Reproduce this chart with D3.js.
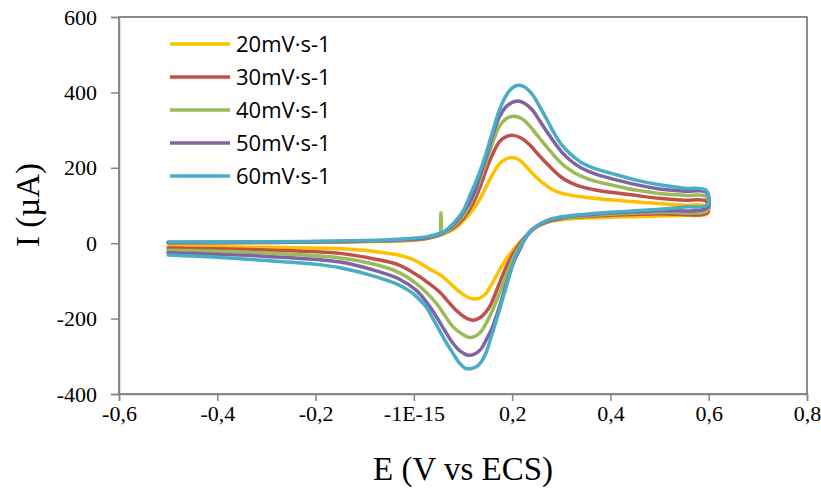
<!DOCTYPE html>
<html>
<head>
<script src="https://d3js.org/d3.v7.min.js"></script>
<style>
  body { margin: 0; background: #fff; }
  text { fill: #000; }
</style>
</head>
<body>
<svg width="821" height="493"></svg>
<script>
// scan rates (legend) and colours
const rates = ["20mV·s-1", "30mV·s-1", "40mV·s-1", "50mV·s-1", "60mV·s-1"];
const colors = ["#FFC000", "#C0504D", "#9BBB59", "#8064A2", "#4BACC6"];

const xTicks = [-0.6, -0.4, -0.2, 0, 0.2, 0.4, 0.6, 0.8];
const xTickLabels = ["-0,6", "-0,4", "-0,2", "-1E-15", "0,2", "0,4", "0,6", "0,8"];
const yTicks = [-400, -200, 0, 200, 400, 600];

// [E (V), I (µA)], forward scan then reverse
const cv20 = [[-0.5,1],[-0.3,2],[-0.1,4],[0,8],[0.03,13],[0.06,24],[0.08,36],[0.1,58],[0.12,88],[0.135,118],[0.147,149],[0.16,182],[0.174,210],[0.188,224],[0.2,227],[0.213,222],[0.229,203],[0.245,180],[0.262,160],[0.28,144],[0.3,133],[0.34,123],[0.4,115],[0.45,110],[0.5,105],[0.55,101],[0.595,98],
  [0.598,78],[0.55,74],[0.5,72],[0.45,70],[0.4,69],[0.35,67],[0.3,63],[0.27,55],[0.25,43],[0.235,28],[0.22,8],[0.207,-10],[0.195,-30],[0.185,-48],[0.174,-72],[0.16,-105],[0.147,-133],[0.135,-145],[0.1215,-148],[0.108,-142],[0.093,-129],[0.075,-108],[0.059,-89],[0.04,-74],[0.025,-63],[0,-44],[-0.03,-32],[-0.08,-22],[-0.15,-15],[-0.3,-11],[-0.5,-8]];

const cv30 = [[-0.5,1],[-0.3,2],[-0.1,5],[0,9],[0.03,14],[0.06,26],[0.08,40],[0.1,65],[0.12,105],[0.135,150],[0.147,194],[0.16,235],[0.174,269],[0.19,284],[0.203,286],[0.218,279],[0.235,262],[0.25,240],[0.27,212],[0.3,175],[0.32,160],[0.34,150],[0.37,141],[0.4,135],[0.45,127],[0.5,119],[0.55,114],[0.595,111],
  [0.598,82],[0.5,78],[0.4,74],[0.3,65],[0.27,56],[0.25,44],[0.235,28],[0.22,7],[0.21,-12],[0.2,-32],[0.187,-66],[0.174,-107],[0.164,-140],[0.154,-169],[0.14,-192],[0.128,-202],[0.117,-204],[0.103,-196],[0.086,-178],[0.07,-155],[0.052,-129],[0.03,-106],[0.012,-89],[-0.03,-58],[-0.08,-42],[-0.15,-27],[-0.3,-18],[-0.5,-13]];

const cv40 = [[-0.5,2],[-0.3,3],[-0.1,5],[0,10],[0.03,15],[0.053,23],[0.055,80],[0.057,25],[0.08,44],[0.1,72],[0.12,118],[0.135,170],[0.147,215],[0.16,265],[0.174,310],[0.19,332],[0.205,337],[0.22,330],[0.235,312],[0.25,288],[0.27,256],[0.3,212],[0.32,192],[0.34,178],[0.37,164],[0.4,155],[0.45,141],[0.5,132],[0.55,127],[0.595,123],
  [0.598,88],[0.5,82],[0.4,77],[0.3,66],[0.27,57],[0.25,45],[0.235,28],[0.222,6],[0.212,-15],[0.202,-40],[0.188,-85],[0.174,-133],[0.16,-178],[0.147,-213],[0.135,-237],[0.123,-248],[0.113,-250],[0.098,-241],[0.08,-222],[0.063,-192],[0.046,-160],[0.025,-130],[0.005,-107],[-0.03,-78],[-0.08,-56],[-0.15,-39],[-0.3,-26],[-0.5,-19]];

const cv50 = [[-0.5,2],[-0.3,3],[-0.1,6],[0,11],[0.03,16],[0.06,28],[0.08,48],[0.1,80],[0.12,125],[0.135,180],[0.147,228],[0.16,285],[0.174,335],[0.19,365],[0.21,377],[0.225,371],[0.242,352],[0.255,327],[0.27,297],[0.3,243],[0.32,218],[0.34,200],[0.37,183],[0.4,172],[0.45,156],[0.5,144],[0.55,138],[0.595,135],
  [0.598,95],[0.5,86],[0.4,80],[0.3,68],[0.27,58],[0.25,45],[0.235,28],[0.224,6],[0.215,-18],[0.205,-45],[0.19,-100],[0.174,-169],[0.16,-222],[0.147,-257],[0.135,-283],[0.122,-295],[0.11,-297],[0.095,-287],[0.08,-266],[0.063,-232],[0.046,-195],[0.025,-155],[0.005,-125],[-0.03,-95],[-0.08,-72],[-0.15,-50],[-0.3,-35],[-0.5,-25]];

const cv60 = [[-0.5,3],[-0.4,3],[-0.3,4],[-0.2,5],[-0.1,7],[-0.05,9],[0,13],[0.03,18],[0.06,30],[0.08,52],[0.1,85],[0.113,123],[0.13,175],[0.147,238],[0.16,295],[0.174,353],[0.185,385],[0.195,405],[0.205,416],[0.215,419],[0.228,412],[0.242,393],[0.255,365],[0.27,330],[0.285,293],[0.3,262],[0.32,235],[0.34,215],[0.37,197],[0.4,186],[0.45,168],[0.5,155],[0.55,146],[0.595,140],
  [0.598,102],[0.55,96],[0.5,90],[0.45,86],[0.4,82],[0.35,77],[0.3,70],[0.27,60],[0.25,46],[0.235,30],[0.225,10],[0.216,-10],[0.208,-30],[0.198,-70],[0.188,-116],[0.178,-160],[0.168,-204],[0.157,-250],[0.147,-290],[0.137,-315],[0.127,-328],[0.115,-333],[0.105,-332],[0.093,-318],[0.08,-293],[0.065,-262],[0.052,-231],[0.038,-198],[0.025,-169],[0.01,-148],[-0.002,-133],[-0.03,-111],[-0.08,-88],[-0.15,-65],[-0.2,-56],[-0.3,-46],[-0.4,-37],[-0.5,-31]];

const curves = [cv20, cv30, cv40, cv50, cv60];

const svg = d3.select("svg");
const plotL = 119, plotR = 807, plotT = 17, plotB = 394;

const x = d3.scaleLinear().domain([-0.6, 0.8]).range([plotL, plotR]);
const y = d3.scaleLinear().domain([-400, 600]).range([plotB, plotT]);

// plot frame
svg.append("rect")
  .attr("x", plotL).attr("y", plotT)
  .attr("width", plotR - plotL).attr("height", plotB - plotT)
  .attr("fill", "none").attr("stroke", "#404040").attr("stroke-width", 1.2);

// axes
const xAxis = svg.append("g")
  .attr("transform", `translate(0,${plotB})`)
  .call(d3.axisBottom(x).tickValues(xTicks).tickSize(7).tickPadding(4)
    .tickFormat((d, i) => xTickLabels[i]));
const yAxis = svg.append("g")
  .attr("transform", `translate(${plotL},0)`)
  .call(d3.axisLeft(y).tickValues(yTicks).tickSize(8).tickPadding(14)
    .tickFormat(d => String(d)));

[xAxis, yAxis].forEach(g => {
  g.select(".domain").attr("stroke", "#868686").attr("stroke-width", 1.5);
  g.selectAll(".tick line").attr("stroke", "#868686").attr("stroke-width", 1.5);
  g.selectAll(".tick text")
    .attr("font-family", "'Liberation Serif', 'Times New Roman', serif")
    .attr("font-size", 22).attr("fill", "#000");
});

// curves
const line = d3.line()
  .x(d => x(d[0]))
  .y(d => y(d[1]))
  .curve(d3.curveCatmullRom.alpha(0.5));

curves.forEach((c, i) => {
  svg.append("path")
    .datum(c)
    .attr("d", line)
    .attr("fill", "none")
    .attr("stroke", colors[i])
    .attr("stroke-width", 3.5)
    .attr("stroke-linejoin", "round")
    .attr("stroke-linecap", "round");
});

// legend
const legend = svg.append("g");
rates.forEach((r, i) => {
  const ly = 44 + i * 33;
  legend.append("line")
    .attr("x1", 170).attr("x2", 230)
    .attr("y1", ly).attr("y2", ly)
    .attr("stroke", colors[i]).attr("stroke-width", 3.5);
  legend.append("text")
    .attr("x", 236).attr("y", ly)
    .attr("dy", "0.36em")
    .attr("font-family", "'Open Sans', 'Noto Sans', sans-serif")
    .attr("font-size", 22)
    .attr("fill", "#222")
    .text(r);
});

// axis titles
svg.append("text")
  .attr("x", 463).attr("y", 480)
  .attr("text-anchor", "middle")
  .attr("font-family", "'Liberation Serif', 'Times New Roman', serif")
  .attr("font-size", 33)
  .text("E (V vs ECS)");

svg.append("text")
  .attr("transform", "translate(39,205) rotate(-90)")
  .attr("text-anchor", "middle")
  .attr("font-family", "'Liberation Serif', 'Times New Roman', serif")
  .attr("font-size", 33)
  .text("I (µA)");
</script>
</body>
</html>
